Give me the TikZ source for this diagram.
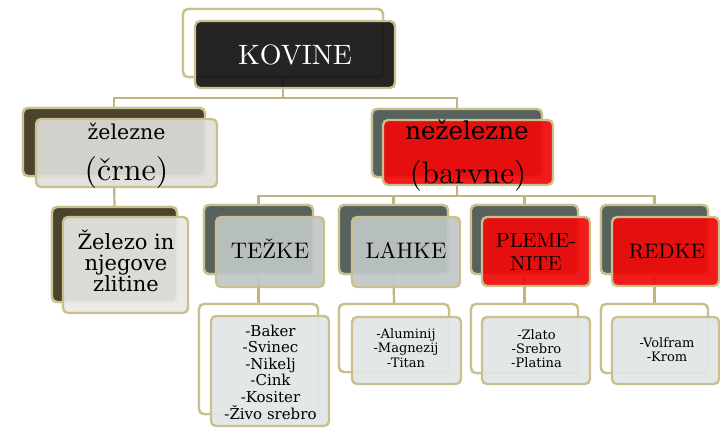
\documentclass[tikz,border=0pt]{standalone}
\usepackage{fontspec}
\newfontfamily\dvs{DejaVu Serif}
\newfontfamily\lmten{lmroman10-regular.otf}
\definecolor{tan}{RGB}{201,192,142}
\definecolor{conncol}{RGB}{190,181,128}
\definecolor{kovfill}{RGB}{18,18,18}
\definecolor{olive}{RGB}{74,68,44}
\definecolor{slate}{RGB}{87,98,95}
\definecolor{redf}{RGB}{240,8,8}
\definecolor{lgray}{RGB}{222,222,218}
\definecolor{lgray2}{RGB}{232,232,229}
\definecolor{sgray}{RGB}{192,199,198}
\definecolor{listf}{RGB}{226,229,229}
\newcommand\mkbox[6]{\node[#2, minimum width=#5-#3, minimum height=#6-#4] (#1) at (#3,#4) {};}
\begin{document}
\begin{tikzpicture}[x=1pt,y=-1pt,
  bx/.style={draw=tan, line width=2.4pt, rounded corners=5pt, anchor=north west, inner sep=0pt, outer sep=0pt},
  backw/.style={bx, fill=white},
  backc/.style={bx, fill=#1},
  front/.style={bx, fill=#1, fill opacity=0.92},
  conn/.style={draw=conncol, line width=2.2pt},
  lm/.style={anchor=base, inner sep=0pt, text=black, font=\lmten\fontsize{#1}{#1}\selectfont},
  dv/.style={anchor=base, inner sep=0pt, text=black, font=\dvs\fontsize{#1}{#1}\selectfont},
]
\useasboundingbox (0,0) rectangle (720,428);
% back boxes (anchors for the connectors)
\mkbox{kovB}{backw}{183}{9}{383}{77}
\mkbox{zelB}{backc=olive}{23}{108}{205}{176}
\mkbox{nezB}{backc=slate}{372}{109}{542}{177}
\mkbox{zsB}{backc=olive}{52}{207}{177}{302}
\mkbox{tezB}{backc=slate}{204}{205}{313}{274}
\mkbox{lahB}{backc=slate}{339}{205}{448}{274}
\mkbox{plmB}{backc=slate}{471}{205}{578}{274}
\mkbox{redB}{backc=slate}{601}{205}{708}{274}
\mkbox{tezLB}{backw}{199}{304}{318}{414}
\mkbox{lahLB}{backw}{339}{304}{449}{372}
\mkbox{plmLB}{backw}{471}{304}{578}{373}
\mkbox{redLB}{backw}{601}{304}{708}{373}
% connectors
\draw[conn] (kovB.south) -- ++(0,21) -| (zelB.north);
\draw[conn] (kovB.south) -- ++(0,21) -| (nezB.north);
\draw[conn] (zelB.south) -- (zsB.north);
\draw[conn] (nezB.south) -- ++(0,19) -| (tezB.north);
\draw[conn] (nezB.south) -- ++(0,19) -| (lahB.north);
\draw[conn] (nezB.south) -- ++(0,19) -| (plmB.north);
\draw[conn] (nezB.south) -- ++(0,19) -| (redB.north);
\draw[conn] (tezB.south) -- (tezLB.north);
\draw[conn] (lahB.south) -- (lahLB.north);
\draw[conn] (plmB.south) -- (plmLB.north);
\draw[conn] (redB.south) -- (redLB.north);
% back boxes again, over the connector ends
\mkbox{kovB2}{backw}{183}{9}{383}{77}
\mkbox{zelB2}{backc=olive}{23}{108}{205}{176}
\mkbox{nezB2}{backc=slate}{372}{109}{542}{177}
\mkbox{zsB2}{backc=olive}{52}{207}{177}{302}
\mkbox{tezB2}{backc=slate}{204}{205}{313}{274}
\mkbox{lahB2}{backc=slate}{339}{205}{448}{274}
\mkbox{plmB2}{backc=slate}{471}{205}{578}{274}
\mkbox{redB2}{backc=slate}{601}{205}{708}{274}
\mkbox{tezLB2}{backw}{199}{304}{318}{414}
\mkbox{lahLB2}{backw}{339}{304}{449}{372}
\mkbox{plmLB2}{backw}{471}{304}{578}{373}
\mkbox{redLB2}{backw}{601}{304}{708}{373}
% front boxes
\mkbox{kovF}{front=kovfill}{195}{21}{395}{88}
\mkbox{zelF}{front=lgray}{36}{119}{217}{187}
\mkbox{nezF}{front=redf}{383}{120}{553}{185}
\mkbox{zsF}{front=lgray2}{63}{217}{188}{313}
\mkbox{tezF}{front=sgray}{216}{217}{324}{287}
\mkbox{lahF}{front=sgray}{352}{217}{460}{287}
\mkbox{plmF}{front=redf}{482}{217}{590}{286}
\mkbox{redF}{front=redf}{612}{217}{719}{286}
\mkbox{tezLF}{front=listf}{211}{316}{329}{426}
\mkbox{lahLF}{front=listf}{352}{317}{461}{384}
\mkbox{plmLF}{front=listf}{482}{317}{590}{384}
\mkbox{redLF}{front=listf}{612}{317}{719}{384}
% texts
\node[lm=28, text=white] (kovT) at (295,65) {KOVINE};
\node[dv=20.5] (zelT1) at (126.5,139) {železne};
\node[lm=32] (zelT2) at (126.5,180) {(črne)};
\node[dv=24.5] (nezT1) at (467,139) {neželezne};
\node[lm=31] (nezT2) at (468,183) {(barvne)};
\node[dv=21] (zsT1) at (126,249) {Železo in};
\node[dv=21] (zsT2) at (126,270) {njegove};
\node[dv=21] (zsT3) at (126,291) {zlitine};
\node[lm=22.5] (tezT) at (270,258) {TEŽKE};
\node[lm=22.5] (lahT) at (406,258) {LAHKE};
\node[lm=20.5] (plmT1) at (536,247) {PLEME-};
\node[lm=20.5] (plmT2) at (536,270) {NITE};
\node[lm=21] (redT) at (667,258) {REDKE};
\foreach \t [count=\i] in {-Baker,-Svinec,-Nikelj,-Cink,-Kositer,-Živo srebro}
  \node[dv=15] (tzL\i) at (270.5,{336+16.6*(\i-1)}) {\t};
\foreach \t [count=\i] in {-Aluminij,-Magnezij,-Titan}
  \node[dv=13] (lhL\i) at (406,{338+14.5*(\i-1)}) {\t};
\foreach \t [count=\i] in {-Zlato,-Srebro,-Platina}
  \node[dv=13] (plL\i) at (536.5,{339+14*(\i-1)}) {\t};
\foreach \t [count=\i] in {-Volfram,-Krom}
  \node[dv=13] (rdL\i) at (667,{347+14*(\i-1)}) {\t};
\end{tikzpicture}
\end{document}
